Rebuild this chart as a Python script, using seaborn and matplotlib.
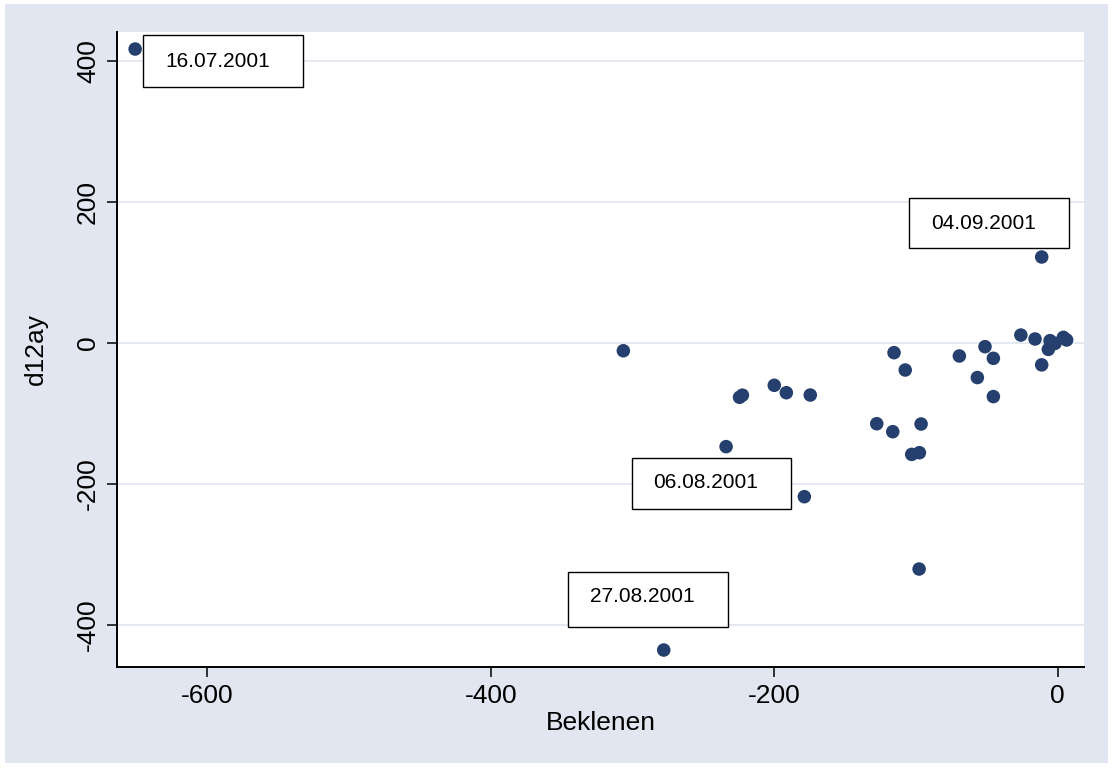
import numpy as np
import pandas as pd
import matplotlib
matplotlib.use("Agg")
import matplotlib.pyplot as plt
import matplotlib.transforms as mtransforms
from matplotlib.patches import Rectangle
import seaborn as sns

# data
beklenen = [-651, -306.5, -278, -234, -224.5, -222.5, -200, -191.5, -178.8, -174.6,
            -127.7, -116.4, -115.5, -107.6, -103, -97.6, -97.8, -96.4, -69.4, -56.7,
            -51.3, -45.4, -45.4, -26, -16, -11.3, -11.3, -6.6, -5.4, -1.9, 4, 6.3]
d12ay = [417, -11, -435.5, -147, -77, -74, -60, -70.5, -218, -73.8,
         -114.5, -125.8, -13.7, -38.3, -158, -155.6, -320.6, -114.9, -18.4, -49,
         -5.2, -21.7, -76, 11.3, 5.7, 122, -31, -9, 3.3, -0.5, 8, 4.3]
tarih = ['16.07.2001', '', '27.08.2001', '', '', '', '', '', '06.08.2001', '',
         '', '', '', '', '', '', '', '', '', '',
         '', '', '', '', '', '04.09.2001', '', '', '', '', '', '']

x_ticks = [-600, -400, -200, 0]
y_ticks = [-400, -200, 0, 200, 400]

df = pd.DataFrame({'Beklenen': beklenen, 'd12ay': d12ay, 'tarih': tarih})

# label box placement in pixels relative to the point: box (dx, dy, w, h), text (dx, dy)
label_pos = {
    '16.07.2001': ((8.3, -38.3, 160, 52.3), (30.7, -17.7)),
    '04.09.2001': ((-132.4, 9.4, 160, 50), (-110.7, 28.4)),
    '06.08.2001': ((-172.6, -12.6, 159.6, 51.6), (-151, 8.4)),
    '27.08.2001': ((-96, 22.7, 160, 55.6), (-74, 47.7)),
}

bg = '#E1E6F0'
navy = '#25406F'

sns.set_theme(style='white')
plt.rcParams['font.family'] = ['Liberation Sans', 'DejaVu Sans']

fig = plt.figure(figsize=(11.18, 7.71), dpi=100)
fig.patch.set_facecolor('white')
fig.patches.append(Rectangle((5 / 1118, 8 / 771), 1 - 15 / 1118, 1 - 12 / 771,
                             transform=fig.transFigure, facecolor=bg,
                             edgecolor='none', zorder=-10))

ax = fig.add_axes([0.1044, 0.1345, 0.8655, 0.8244])
ax.set_zorder(1)
ax.set_facecolor('white')

sns.scatterplot(data=df, x='Beklenen', y='d12ay', ax=ax, color=navy,
                s=95, edgecolor='none', linewidth=0, zorder=3)

ax.set_xlim(-664, 18.8)
ax.set_ylim(-460, 441.6)
ax.set_xticks(x_ticks)
ax.set_yticks(y_ticks)
ax.set_xticklabels([str(v) for v in x_ticks])
ax.set_yticklabels([str(v) for v in y_ticks], rotation=90, va='center')

for v in y_ticks:
    ax.axhline(v, color=bg, lw=1.3, zorder=1)

for side in ['top', 'right']:
    ax.spines[side].set_visible(False)
for side in ['left', 'bottom']:
    ax.spines[side].set_color('black')
    ax.spines[side].set_linewidth(1.4)

ax.tick_params(axis='both', which='major', direction='out', length=7,
               width=1.1, color='black', labelcolor='black', labelsize=19,
               pad=5, left=True, bottom=True)
ax.set_xlabel('Beklenen', fontsize=19, labelpad=2, color='black')
ax.set_ylabel('d12ay', fontsize=19, labelpad=20, color='black')

# boxed date labels
for _, row in df[df['tarih'] != ''].iterrows():
    (bx, by, bw, bh), (tx, ty) = label_pos[row['tarih']]
    tr = mtransforms.Affine2D().translate(bx, by) + \
        mtransforms.ScaledTranslation(row['Beklenen'], row['d12ay'], ax.transData)
    ax.add_patch(Rectangle((0, 0), bw, bh, transform=tr, facecolor='white',
                           edgecolor='black', lw=1.0, zorder=4, clip_on=False))
    ax.annotate(row['tarih'], xy=(row['Beklenen'], row['d12ay']), xytext=(tx, ty),
                textcoords='offset pixels', ha='left', va='baseline',
                fontsize=15, color='black', zorder=5)

fig.savefig('out.png', dpi=100, facecolor=fig.get_facecolor())
